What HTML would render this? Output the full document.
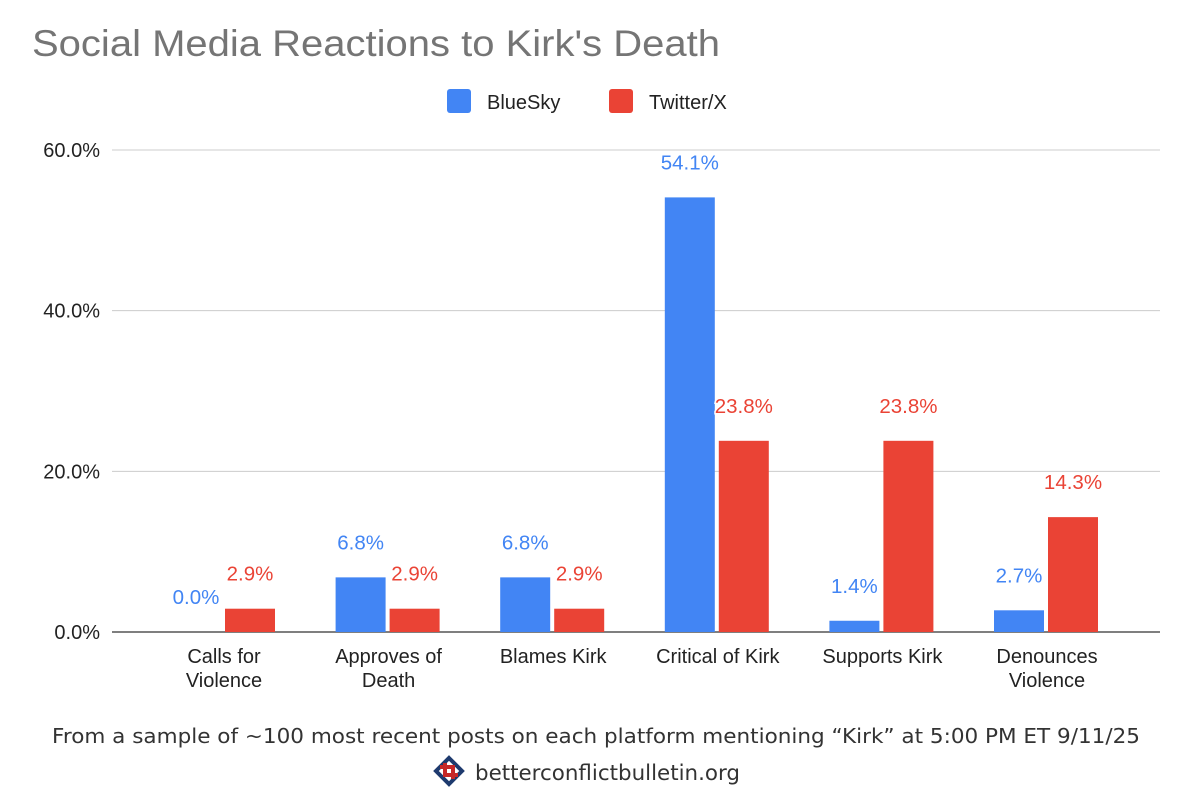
<!DOCTYPE html>
<html><head><meta charset="utf-8"><style>
body{margin:0;background:#fff;}
svg text{font-family:"Liberation Sans",Arial,sans-serif;}
</style></head><body>
<svg id="chart" width="1200" height="806" xmlns="http://www.w3.org/2000/svg">
<text x="32" y="56" font-size="37" fill="#757575" textLength="688" lengthAdjust="spacingAndGlyphs">Social Media Reactions to Kirk's Death</text>
<g>
<rect x="447" y="89" width="24" height="24" rx="3" fill="#4285f4"/>
<text x="487" y="109" font-size="20" fill="#222">BlueSky</text>
<rect x="609" y="89" width="24" height="24" rx="3" fill="#ea4335"/>
<text x="649" y="109" font-size="20" fill="#222">Twitter/X</text>
</g>
<g id="grid"></g><g id="bars"></g><g id="labels"></g>
<text x="52" y="743" font-size="20" fill="#333" textLength="1088" lengthAdjust="spacingAndGlyphs" style="font-family:'DejaVu Sans',sans-serif">From a sample of ~100 most recent posts on each platform mentioning “Kirk” at 5:00 PM ET 9/11/25</text>
<g transform="translate(449,771)">
<path d="M0,-13 L13,0 L0,13 L-13,0 Z" fill="none" stroke="#1e3a6e" stroke-width="4"/>
<path d="M-9,-4 L4,-4 L4,8 M9,4 L-4,4 L-4,-8" fill="none" stroke="#c62828" stroke-width="4"/>
</g>
<text x="475" y="780" font-size="21" fill="#333" textLength="265" lengthAdjust="spacingAndGlyphs" style="font-family:'DejaVu Sans',sans-serif">betterconflictbulletin.org</text>
</svg>
<script>
const categories=[["Calls for","Violence"],["Approves of","Death"],["Blames Kirk"],["Critical of Kirk"],["Supports Kirk"],["Denounces","Violence"]];
const blueSky=[0.0,6.8,6.8,54.1,1.4,2.7];
const twitter=[2.9,2.9,2.9,23.8,23.8,14.3];
const ticks=[0,20,40,60];
const NS="http://www.w3.org/2000/svg";
const y0=632,pxPer=(632-150)/60;
const yS=v=>y0-v*pxPer;
const bandStart=141.7,band=164.6;
const xC=i=>bandStart+band*(i+0.5);
function mk(tag,attrs,parent){const e=document.createElementNS(NS,tag);for(const k in attrs)e.setAttribute(k,attrs[k]);document.getElementById(parent).appendChild(e);return e;}
ticks.forEach(t=>{
 const l=mk('line',{x1:112,x2:1160,y1:yS(t),y2:yS(t),stroke:t===0?'#333':'#ccc','stroke-width':t===0?1.3:1},'grid');
 
 
 const tx=mk('text',{x:100,y:yS(t)+7,'font-size':20,fill:'#222','text-anchor':'end'},'grid');
 tx.textContent=t.toFixed(1)+'%';
 
 
});
categories.forEach((c,i)=>{
 const cx=xC(i);
 const b=mk('rect',{x:cx-53,y:yS(blueSky[i]),width:50,height:y0-yS(blueSky[i]),fill:'#4285f4'},'bars');
 
 
 const r=mk('rect',{x:cx+1,y:yS(twitter[i]),width:50,height:y0-yS(twitter[i]),fill:'#ea4335'},'bars');
 
 
 const bl=mk('text',{x:cx-28,y:yS(blueSky[i])-28,'font-size':20.5,fill:'#4285f4','text-anchor':'middle'},'labels');
 bl.textContent=blueSky[i].toFixed(1)+'%';
 
 
 const rl=mk('text',{x:cx+26,y:yS(twitter[i])-28,'font-size':20.5,fill:'#ea4335','text-anchor':'middle',stroke:'#fff','stroke-width':3,'paint-order':'stroke'},'labels');
 rl.textContent=twitter[i].toFixed(1)+'%';
 
 
 c.forEach((line,j)=>{
  const t=mk('text',{x:cx,y:663+j*24,'font-size':20,fill:'#222','text-anchor':'middle'},'labels');
  t.textContent=line;
  
  
 });
});
</script>
</body></html>
